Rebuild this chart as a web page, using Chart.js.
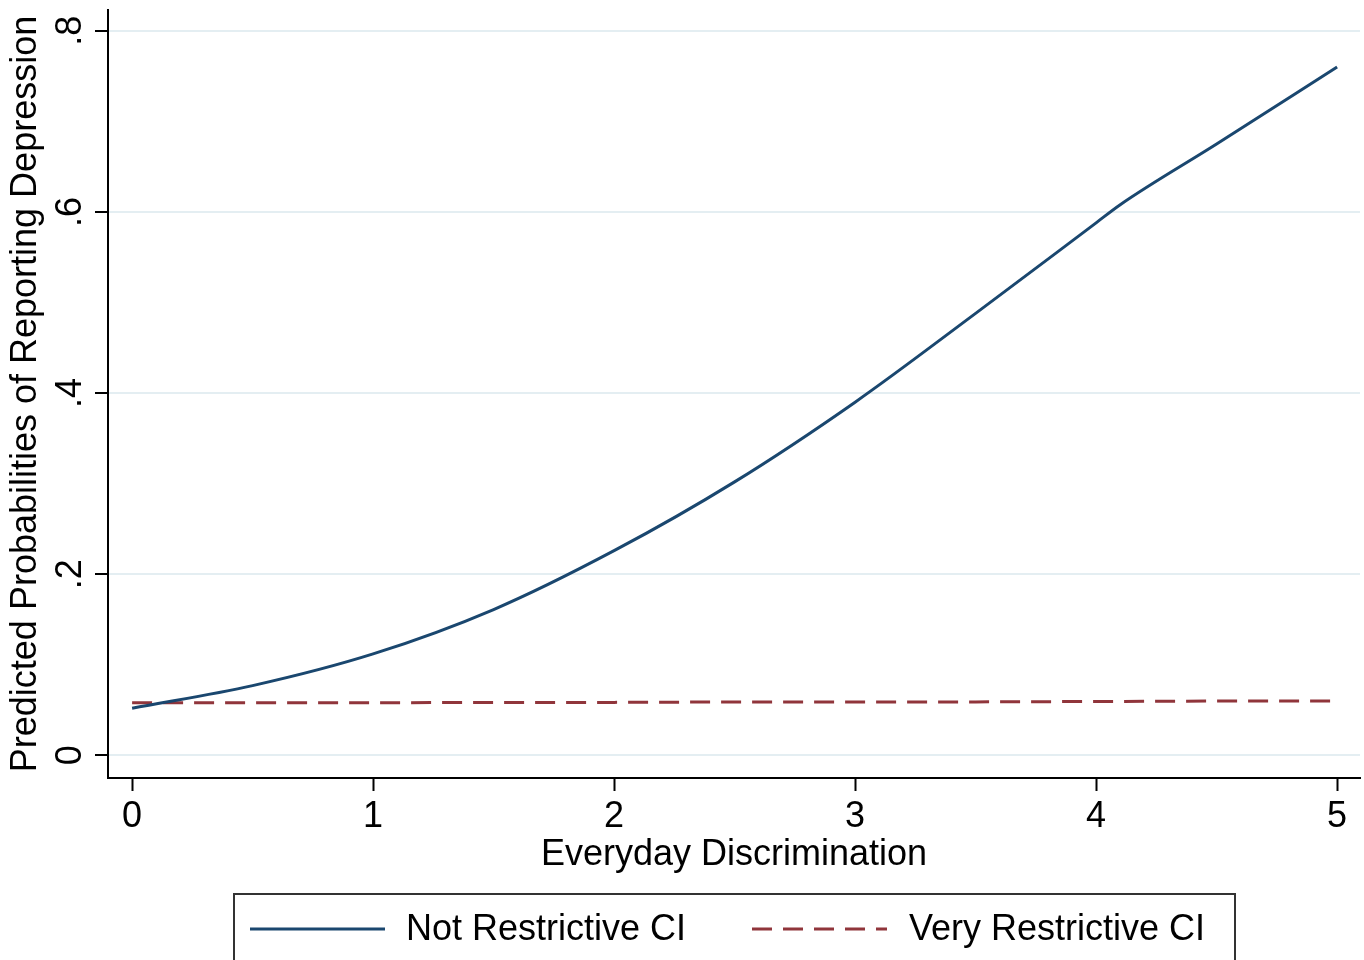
<!DOCTYPE html>
<html>
<head>
<meta charset="utf-8">
<title>Predicted Probabilities of Reporting Depression</title>
<script src="https://cdn.jsdelivr.net/npm/chart.js@4.4.1/dist/chart.umd.min.js"></script>
<style>
    html, body { margin: 0; padding: 0; background: #fff; }
    #wrap { width: 1364px; height: 960px; }
</style>
</head>
<body>
<div id="wrap"><canvas id="chart" width="1364" height="960"></canvas></div>
<script>
// Data
const discrimination = [0, 0.5, 1, 1.5, 2, 2.5, 3, 3.5, 4, 4.1, 4.5, 5];
const notRestrictive = [0.052, 0.077, 0.112, 0.161, 0.226, 0.302, 0.390, 0.488, 0.588, 0.608, 0.675, 0.760];
const veryRestrictive = [0.058, 0.058, 0.058, 0.0585, 0.0585, 0.059, 0.059, 0.059, 0.0595, 0.0595, 0.06, 0.06];
const xTicks = [0, 1, 2, 3, 4, 5];
const yTicks = [0, 0.2, 0.4, 0.6, 0.8];
const seriesLabels = ['Not Restrictive CI', 'Very Restrictive CI'];

const FONT = '"Liberation Sans", Arial, Helvetica, sans-serif';
const FONT_SIZE = 36;
const BLUE = '#1a476f';
const RED = '#90353b';
const GRID = '#e4eef2';

function fmtTick(v) {
    if (v === 0) return '0';
    return String(Math.round(v * 10) / 10).replace(/^0\./, '.');
}

function toPoints(xs, ys) {
    return xs.map((x, i) => ({ x: x, y: ys[i] }));
}

// y tick labels (rotated) + legend box
const extras = {
    id: 'extras',
    afterDraw(chart) {
        const ctx = chart.ctx;
        const y = chart.scales.y;
        ctx.save();
        ctx.fillStyle = '#000';
        ctx.font = FONT_SIZE + 'px ' + FONT;
        ctx.textAlign = 'center';
        ctx.textBaseline = 'alphabetic';
        yTicks.forEach(v => {
            const py = y.getPixelForValue(v);
            ctx.save();
            ctx.translate(81, py);
            ctx.rotate(-Math.PI / 2);
            ctx.fillText(fmtTick(v), 0, 0);
            ctx.restore();
        });

        // legend
        ctx.strokeStyle = '#333';
        ctx.lineWidth = 2;
        ctx.strokeRect(234, 894, 1001, 90);
        const items = [
            { x0: 250, x1: 385, tx: 406 },
            { x0: 752, x1: 887, tx: 909 }
        ];
        chart.data.datasets.forEach((ds, i) => {
            const it = items[i];
            ctx.strokeStyle = ds.borderColor;
            ctx.lineWidth = ds.borderWidth;
            ctx.setLineDash(ds.borderDash || []);
            ctx.beginPath();
            ctx.moveTo(it.x0, 929);
            ctx.lineTo(it.x1, 929);
            ctx.stroke();
            ctx.setLineDash([]);
            ctx.fillStyle = '#000';
            ctx.textAlign = 'left';
            ctx.textBaseline = 'middle';
            ctx.fillText(ds.label, it.tx, 930);
        });
        ctx.restore();
    }
};

const chart = new Chart(document.getElementById('chart'), {
    type: 'line',
    data: {
        datasets: [{
            label: seriesLabels[0],
            data: toPoints(discrimination, notRestrictive),
            borderColor: BLUE,
            borderWidth: 3,
            pointRadius: 0,
            cubicInterpolationMode: 'monotone',
            fill: false
        }, {
            label: seriesLabels[1],
            data: toPoints(discrimination, veryRestrictive),
            borderColor: RED,
            borderWidth: 3,
            borderDash: [20, 11],
            pointRadius: 0,
            fill: false
        }]
    },
    options: {
        responsive: false,
        animation: false,
        devicePixelRatio: 1,
        layout: { padding: { top: 10, right: 4, left: 0, bottom: 0 } },
        plugins: {
            legend: { display: false },
            tooltip: { enabled: false }
        },
        scales: {
            x: {
                type: 'linear',
                min: -0.1,
                max: 5.095,
                afterBuildTicks: s => { s.ticks = xTicks.map(v => ({ value: v })); },
                afterFit: s => { s.height = 182; },
                border: { display: true, color: '#000', width: 2 },
                grid: { drawOnChartArea: false, tickLength: 13, tickColor: '#000', tickWidth: 2 },
                ticks: {
                    color: '#000',
                    font: { family: FONT, size: FONT_SIZE },
                    padding: 4,
                    maxRotation: 0,
                    callback: v => fmtTick(v)
                },
                title: {
                    display: true,
                    text: 'Everyday Discrimination',
                    color: '#000',
                    font: { family: FONT, size: FONT_SIZE },
                    padding: { top: 0, bottom: 83 }
                }
            },
            y: {
                type: 'linear',
                min: -0.025,
                max: 0.823,
                afterBuildTicks: s => { s.ticks = yTicks.map(v => ({ value: v })); },
                afterFit: s => { s.width = 108; },
                border: { display: true, color: '#000', width: 2 },
                grid: { color: GRID, lineWidth: 2, tickLength: 13, tickColor: '#000', tickWidth: 2 },
                ticks: { display: false },
                title: {
                    display: true,
                    text: 'Predicted Probabilities of Reporting Depression',
                    color: '#000',
                    font: { family: FONT, size: FONT_SIZE },
                    padding: { top: 4, bottom: 0 }
                }
            }
        }
    },
    plugins: [extras]
});
</script>
</body>
</html>
